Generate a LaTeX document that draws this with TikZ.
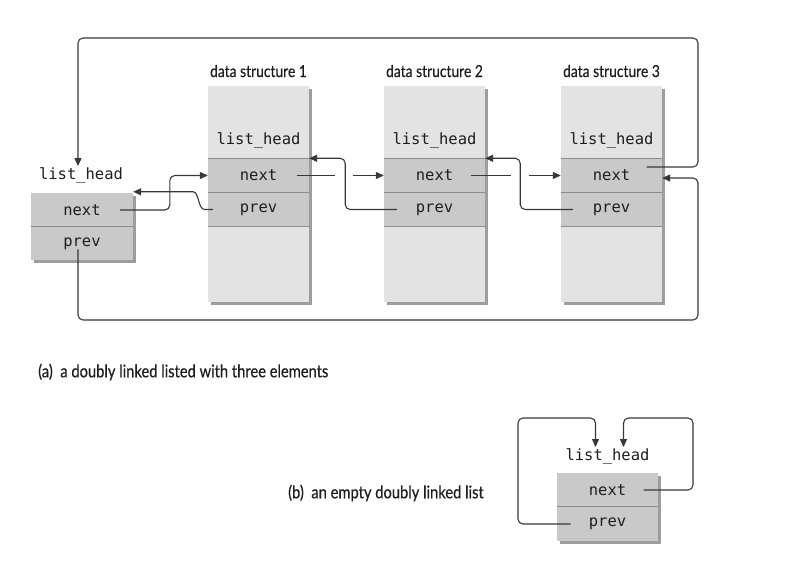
\documentclass[tikz,border=0pt]{standalone}
\usepackage{fontspec}
\usetikzlibrary{arrows.meta,calc}
\newfontfamily\codefont{DejaVu Sans Mono}
\newfontfamily\labelfont[FakeStretch=0.84,FakeBold=0.5]{Lato}

\definecolor{bodyfill}{HTML}{E3E3E3}
\definecolor{rowfill}{HTML}{C9C9C9}
\definecolor{rulecol}{HTML}{8C8C8C}
\definecolor{shadecol}{HTML}{9D9D9D}
\definecolor{linkcol}{HTML}{383838}
\definecolor{inkcol}{HTML}{1E1E1E}

\begin{document}
\begin{tikzpicture}[x=1pt,y=-1pt,
  body/.style={rectangle,fill=bodyfill,minimum width=101pt,minimum height=216pt,inner sep=0pt},
  field/.style={rectangle,fill=rowfill,minimum width=101pt,minimum height=34pt,inner sep=0pt,
                font=\codefont\fontsize{15.5}{15.5}\selectfont,text=inkcol},
  code/.style={inner sep=1pt,font=\codefont\fontsize{15.5}{15.5}\selectfont,text=inkcol},
  caption/.style={inner sep=0pt,font=\labelfont\fontsize{17.5}{17.5}\selectfont,text=inkcol},
  title/.style={inner sep=0pt,font=\labelfont\fontsize{16.5}{16.5}\selectfont,text=inkcol},
  rule/.style={draw=rulecol,line width=1.2pt},
  shade/.style={fill=shadecol},
  link/.style={draw=linkcol,line width=1.1pt,rounded corners=5pt},
  tip/.style={-{Triangle[length=8pt,width=7pt]}}]
\useasboundingbox (0,0) rectangle (790,561);

% ---------- (a) the three data structures ----------
\foreach \n/\cx/\lab in {ds1/258.5/1, ds2/434.5/2, ds3/611.5/3} {
  \fill[shade] (\cx-47.5,89) rectangle (\cx+53.5,305);
  \node[body] (\n) at (\cx,194) {};
  \node[field] (\n-n) at (\cx,175.5) {next};
  \node[field] (\n-p) at (\cx,209.5) {prev};
  \draw[rule] (\n-n.north west) -- (\n-n.north east);
  \draw[rule] (\n-p.north west) -- (\n-p.north east);
  \draw[rule] (\n-p.south west) -- (\n-p.south east);
  \node[code] (\n-h) at (\cx,140) {list\_head};
  \node[title] (\n-t) at (\cx,71) {data structure \lab};
}

% ---------- (a) the list head ----------
\fill[shade] (34,196) rectangle (136,263);
\node[field,minimum width=102pt] (h0-n) at (82,210) {next};
\node[field,minimum width=102pt,minimum height=33pt] (h0-p) at (82,243.5) {prev};
\draw[rule] (h0-p.north west) -- (h0-p.north east);
\node[code] (h0-h) at (81,175) {list\_head};

% loop coordinates
\coordinate (topr) at (698,38);
\coordinate (botr) at (698,320);

% next pointers
\draw[link,tip] ($(h0-n.center)+(38,0)$) -| ($(ds1-n.west)+(-38,0)$) -- (ds1-n.west);
\draw[link] ($(ds1-n.center)+(38,0)$) -- ($(ds2-n.west)+(-49,0)$);
\draw[link,tip] ($(ds2-n.west)+(-31,0)$) -- (ds2-n.west);
\draw[link] ($(ds2-n.center)+(36,0)$) -- ($(ds3-n.west)+(-50,0)$);
\draw[link,tip] ($(ds3-n.west)+(-32,0)$) -- (ds3-n.west);
\draw[link,tip] ($(ds3-n.center)+(35,-8.5)$) -| (topr) -| ($(h0-h.north)+(-3,0)$);

% prev pointers
\draw[draw=linkcol,line width=1.1pt,tip] ($(ds1-p.west)+(5,0)$) -- ++(-8,0)
  .. controls +(-7,0) and +(6,0) .. ($(h0-n.north east)+(60,-1)$) -- ($(h0-n.north east)+(0,-1)$);
\draw[link,tip] ($(ds2-p.west)+(13,0)$) -| ($(ds1-n.north east)+(36,0)$) -- (ds1-n.north east);
\draw[link,tip] ($(ds3-p.west)+(12,0)$) -| ($(ds2-n.north east)+(35,0)$) -- (ds2-n.north east);
\draw[link,tip] ($(h0-p.center)+(-4,6)$) |- (botr) |- ($(ds3-n.east)+(0,2.5)$);

\node[caption,anchor=west] (capa) at (38,372) {(a)\ \ a doubly linked listed with three elements};

% ---------- (b) an empty list ----------
\fill[shade] (560,476) rectangle (661,544);
\node[field] (hb-n) at (607.5,490) {next};
\node[field] (hb-p) at (607.5,524) {prev};
\draw[rule] (hb-p.north west) -- (hb-p.north east);
\node[code] (hb-h) at (607.5,456) {list\_head};

\coordinate (bl) at (518,418);
\coordinate (br) at (693,418);
\draw[link,tip] ($(hb-p.center)+(-37,0)$) -| (bl) -| ($(hb-h.north)+(-12,0)$);
\draw[link,tip] ($(hb-n.center)+(36,0)$) -| (br) -| ($(hb-h.north)+(16,0)$);

\node[caption,anchor=west] (capb) at (288,493) {(b)\ \ an empty doubly linked list};
\end{tikzpicture}
\end{document}
